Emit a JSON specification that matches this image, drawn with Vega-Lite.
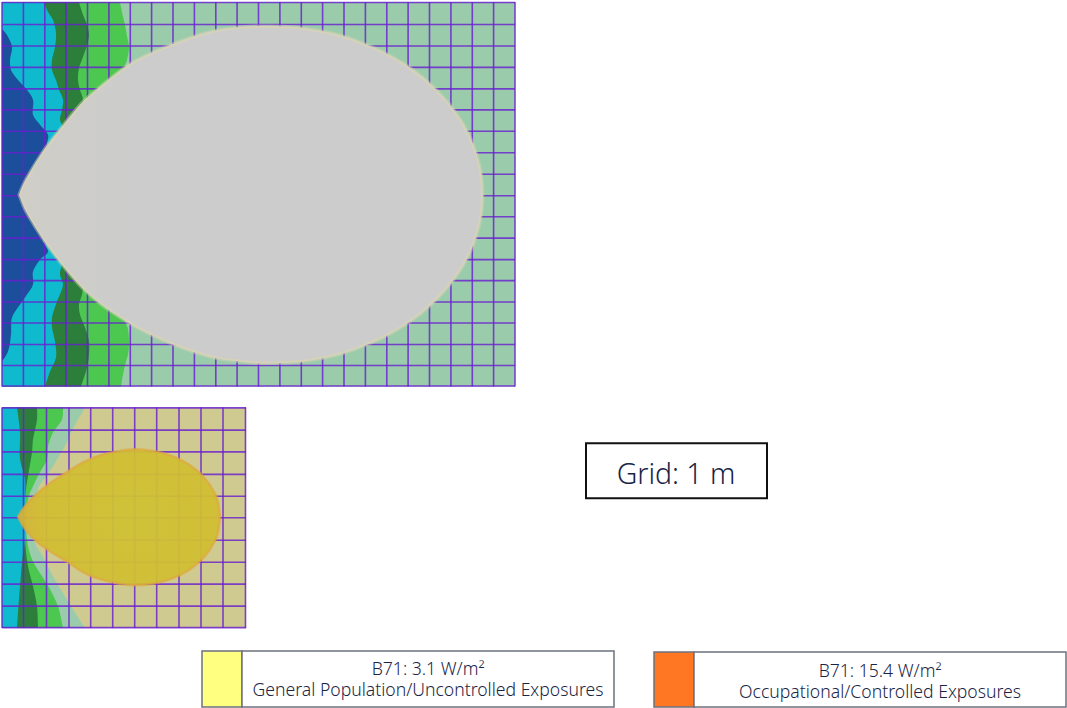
{"$schema":"https://vega.github.io/schema/vega-lite/v6.json","width":1067,"height":708,"padding":0,"autosize":{"type":"fit","contains":"padding"},"background":"white","config":{"view":{"stroke":null}},
"resolve":{"scale":{"color":"independent"}},
"datasets":{
"panels":[{"part":"top field","x":2,"x2":515,"y":2,"y2":387},{"part":"bottom field","x":2,"x2":246,"y":408,"y2":629}],
"bands":[
{"band":"top green","y":2,"x0":2,"x1":120},{"band":"top green","y":12,"x0":2,"x1":122},{"band":"top green","y":25,"x0":2,"x1":125},{"band":"top green","y":36,"x0":2,"x1":127},{"band":"top green","y":47,"x0":2,"x1":129},{"band":"top green","y":60,"x0":2,"x1":127},{"band":"top green","y":70,"x0":2,"x1":124},{"band":"top green","y":195,"x0":2,"x1":124},{"band":"top green","y":320,"x0":2,"x1":125},{"band":"top green","y":330,"x0":2,"x1":128},{"band":"top green","y":345,"x0":2,"x1":129},{"band":"top green","y":355,"x0":2,"x1":128},{"band":"top green","y":362,"x0":2,"x1":126},{"band":"top green","y":375,"x0":2,"x1":123},{"band":"top green","y":387,"x0":2,"x1":121},
{"band":"top dark","y":2,"x0":2,"x1":79},{"band":"top dark","y":12,"x0":2,"x1":82},{"band":"top dark","y":25,"x0":2,"x1":87},{"band":"top dark","y":35,"x0":2,"x1":89},{"band":"top dark","y":45,"x0":2,"x1":87},{"band":"top dark","y":57,"x0":2,"x1":83},{"band":"top dark","y":68,"x0":2,"x1":79},{"band":"top dark","y":80,"x0":2,"x1":78},{"band":"top dark","y":90,"x0":2,"x1":80},{"band":"top dark","y":100,"x0":2,"x1":83},{"band":"top dark","y":195,"x0":2,"x1":83},{"band":"top dark","y":287,"x0":2,"x1":83},{"band":"top dark","y":295,"x0":2,"x1":82},{"band":"top dark","y":305,"x0":2,"x1":79},{"band":"top dark","y":315,"x0":2,"x1":80},{"band":"top dark","y":328,"x0":2,"x1":85},{"band":"top dark","y":342,"x0":2,"x1":89},{"band":"top dark","y":355,"x0":2,"x1":89},{"band":"top dark","y":368,"x0":2,"x1":87},{"band":"top dark","y":387,"x0":2,"x1":81},
{"band":"top cyan","y":2,"x0":2,"x1":44},{"band":"top cyan","y":12,"x0":2,"x1":48},{"band":"top cyan","y":20,"x0":2,"x1":53},{"band":"top cyan","y":33,"x0":2,"x1":56},{"band":"top cyan","y":47,"x0":2,"x1":55},{"band":"top cyan","y":60,"x0":2,"x1":52},{"band":"top cyan","y":70,"x0":2,"x1":52},{"band":"top cyan","y":80,"x0":2,"x1":56},{"band":"top cyan","y":90,"x0":2,"x1":59},{"band":"top cyan","y":100,"x0":2,"x1":63},{"band":"top cyan","y":110,"x0":2,"x1":62},{"band":"top cyan","y":120,"x0":2,"x1":60},{"band":"top cyan","y":128,"x0":2,"x1":63},{"band":"top cyan","y":195,"x0":2,"x1":63},{"band":"top cyan","y":263,"x0":2,"x1":62},{"band":"top cyan","y":275,"x0":2,"x1":60},{"band":"top cyan","y":285,"x0":2,"x1":63},{"band":"top cyan","y":302,"x0":2,"x1":57},{"band":"top cyan","y":318,"x0":2,"x1":52},{"band":"top cyan","y":328,"x0":2,"x1":52},{"band":"top cyan","y":342,"x0":2,"x1":55},{"band":"top cyan","y":358,"x0":2,"x1":56},{"band":"top cyan","y":372,"x0":2,"x1":50},{"band":"top cyan","y":387,"x0":2,"x1":45},
{"band":"top blue","y":29,"x0":2,"x1":2},{"band":"top blue","y":35,"x0":2,"x1":7},{"band":"top blue","y":47,"x0":2,"x1":12},{"band":"top blue","y":60,"x0":2,"x1":10},{"band":"top blue","y":70,"x0":2,"x1":11},{"band":"top blue","y":80,"x0":2,"x1":18},{"band":"top blue","y":90,"x0":2,"x1":27},{"band":"top blue","y":100,"x0":2,"x1":33},{"band":"top blue","y":115,"x0":2,"x1":33},{"band":"top blue","y":125,"x0":2,"x1":40},{"band":"top blue","y":135,"x0":2,"x1":48},{"band":"top blue","y":145,"x0":2,"x1":47},{"band":"top blue","y":195,"x0":2,"x1":47},{"band":"top blue","y":240,"x0":2,"x1":43},{"band":"top blue","y":252,"x0":2,"x1":48},{"band":"top blue","y":260,"x0":2,"x1":40},{"band":"top blue","y":272,"x0":2,"x1":33},{"band":"top blue","y":285,"x0":2,"x1":33},{"band":"top blue","y":295,"x0":2,"x1":27},{"band":"top blue","y":305,"x0":2,"x1":20},{"band":"top blue","y":318,"x0":2,"x1":12},{"band":"top blue","y":335,"x0":2,"x1":11},{"band":"top blue","y":352,"x0":2,"x1":8},{"band":"top blue","y":362,"x0":2,"x1":2},
{"band":"bottom pale","y":408,"x0":2,"x1":85},{"band":"bottom pale","y":420,"x0":2,"x1":78},{"band":"bottom pale","y":433,"x0":2,"x1":71},{"band":"bottom pale","y":443,"x0":2,"x1":67},{"band":"bottom pale","y":455,"x0":2,"x1":60},{"band":"bottom pale","y":467,"x0":2,"x1":53},{"band":"bottom pale","y":480,"x0":2,"x1":44},{"band":"bottom pale","y":490,"x0":2,"x1":38},{"band":"bottom pale","y":543,"x0":2,"x1":35},{"band":"bottom pale","y":557,"x0":2,"x1":43},{"band":"bottom pale","y":577,"x0":2,"x1":53},{"band":"bottom pale","y":597,"x0":2,"x1":65},{"band":"bottom pale","y":613,"x0":2,"x1":75},{"band":"bottom pale","y":629,"x0":2,"x1":85},
{"band":"bottom green","y":408,"x0":2,"x1":63},{"band":"bottom green","y":420,"x0":2,"x1":62},{"band":"bottom green","y":433,"x0":2,"x1":53},{"band":"bottom green","y":447,"x0":2,"x1":48},{"band":"bottom green","y":460,"x0":2,"x1":47},{"band":"bottom green","y":473,"x0":2,"x1":40},{"band":"bottom green","y":487,"x0":2,"x1":33},{"band":"bottom green","y":500,"x0":2,"x1":28},{"band":"bottom green","y":540,"x0":2,"x1":27},{"band":"bottom green","y":560,"x0":2,"x1":32},{"band":"bottom green","y":577,"x0":2,"x1":42},{"band":"bottom green","y":590,"x0":2,"x1":50},{"band":"bottom green","y":607,"x0":2,"x1":58},{"band":"bottom green","y":629,"x0":2,"x1":63},
{"band":"bottom dark","y":408,"x0":2,"x1":37},{"band":"bottom dark","y":420,"x0":2,"x1":37},{"band":"bottom dark","y":440,"x0":2,"x1":33},{"band":"bottom dark","y":453,"x0":2,"x1":32},{"band":"bottom dark","y":477,"x0":2,"x1":28},{"band":"bottom dark","y":500,"x0":2,"x1":25},{"band":"bottom dark","y":540,"x0":2,"x1":25},{"band":"bottom dark","y":567,"x0":2,"x1":28},{"band":"bottom dark","y":587,"x0":2,"x1":33},{"band":"bottom dark","y":607,"x0":2,"x1":37},{"band":"bottom dark","y":629,"x0":2,"x1":38},
{"band":"bottom cyan","y":408,"x0":2,"x1":17},{"band":"bottom cyan","y":433,"x0":2,"x1":20},{"band":"bottom cyan","y":460,"x0":2,"x1":20},{"band":"bottom cyan","y":480,"x0":2,"x1":25},{"band":"bottom cyan","y":500,"x0":2,"x1":25},{"band":"bottom cyan","y":540,"x0":2,"x1":25},{"band":"bottom cyan","y":563,"x0":2,"x1":22},{"band":"bottom cyan","y":587,"x0":2,"x1":20},{"band":"bottom cyan","y":613,"x0":2,"x1":18},{"band":"bottom cyan","y":629,"x0":2,"x1":17}
],
"grid":[
{"x":2,"x2":2,"y":2,"y2":387},{"x":23.4,"x2":23.4,"y":2,"y2":387},{"x":44.8,"x2":44.8,"y":2,"y2":387},{"x":66.1,"x2":66.1,"y":2,"y2":387},{"x":87.5,"x2":87.5,"y":2,"y2":387},{"x":108.9,"x2":108.9,"y":2,"y2":387},{"x":130.3,"x2":130.3,"y":2,"y2":387},{"x":151.6,"x2":151.6,"y":2,"y2":387},{"x":173,"x2":173,"y":2,"y2":387},{"x":194.4,"x2":194.4,"y":2,"y2":387},{"x":215.8,"x2":215.8,"y":2,"y2":387},{"x":237.1,"x2":237.1,"y":2,"y2":387},{"x":258.5,"x2":258.5,"y":2,"y2":387},{"x":279.9,"x2":279.9,"y":2,"y2":387},{"x":301.3,"x2":301.3,"y":2,"y2":387},{"x":322.6,"x2":322.6,"y":2,"y2":387},{"x":344,"x2":344,"y":2,"y2":387},{"x":365.4,"x2":365.4,"y":2,"y2":387},{"x":386.8,"x2":386.8,"y":2,"y2":387},{"x":408.1,"x2":408.1,"y":2,"y2":387},{"x":429.5,"x2":429.5,"y":2,"y2":387},{"x":450.9,"x2":450.9,"y":2,"y2":387},{"x":472.3,"x2":472.3,"y":2,"y2":387},{"x":493.6,"x2":493.6,"y":2,"y2":387},{"x":515,"x2":515,"y":2,"y2":387},
{"x":2,"x2":515,"y":2.5,"y2":2.5},{"x":2,"x2":515,"y":24.5,"y2":24.5},{"x":2,"x2":515,"y":46,"y2":46},{"x":2,"x2":515,"y":67.5,"y2":67.5},{"x":2,"x2":515,"y":89,"y2":89},{"x":2,"x2":515,"y":110,"y2":110},{"x":2,"x2":515,"y":131.5,"y2":131.5},{"x":2,"x2":515,"y":153,"y2":153},{"x":2,"x2":515,"y":174.5,"y2":174.5},{"x":2,"x2":515,"y":196,"y2":196},{"x":2,"x2":515,"y":217,"y2":217},{"x":2,"x2":515,"y":238.5,"y2":238.5},{"x":2,"x2":515,"y":260,"y2":260},{"x":2,"x2":515,"y":281,"y2":281},{"x":2,"x2":515,"y":302.5,"y2":302.5},{"x":2,"x2":515,"y":323.5,"y2":323.5},{"x":2,"x2":515,"y":345,"y2":345},{"x":2,"x2":515,"y":366,"y2":366},{"x":2,"x2":515,"y":386.5,"y2":386.5},
{"x":2,"x2":2,"y":408,"y2":629},{"x":23.5,"x2":23.5,"y":408,"y2":629},{"x":46.5,"x2":46.5,"y":408,"y2":629},{"x":69,"x2":69,"y":408,"y2":629},{"x":90.7,"x2":90.7,"y":408,"y2":629},{"x":112.7,"x2":112.7,"y":408,"y2":629},{"x":134.7,"x2":134.7,"y":408,"y2":629},{"x":156.7,"x2":156.7,"y":408,"y2":629},{"x":179,"x2":179,"y":408,"y2":629},{"x":201,"x2":201,"y":408,"y2":629},{"x":223,"x2":223,"y":408,"y2":629},{"x":245.5,"x2":245.5,"y":408,"y2":629},
{"x":2,"x2":246,"y":408.5,"y2":408.5},{"x":2,"x2":246,"y":430.7,"y2":430.7},{"x":2,"x2":246,"y":452.5,"y2":452.5},{"x":2,"x2":246,"y":475,"y2":475},{"x":2,"x2":246,"y":497,"y2":497},{"x":2,"x2":246,"y":518.5,"y2":518.5},{"x":2,"x2":246,"y":541,"y2":541},{"x":2,"x2":246,"y":563,"y2":563},{"x":2,"x2":246,"y":585,"y2":585},{"x":2,"x2":246,"y":607,"y2":607},{"x":2,"x2":246,"y":628.5,"y2":628.5}
],
"topDrop":[{"x":20,"upper":195,"lower":195},{"x":21.5,"upper":191,"lower":199},{"x":25,"upper":183,"lower":208},{"x":30,"upper":174,"lower":217},{"x":43,"upper":153,"lower":238},{"x":63,"upper":127,"lower":265},{"x":83,"upper":103,"lower":288},{"x":100,"upper":88,"lower":303},{"x":130,"upper":65,"lower":323},{"x":173,"upper":45,"lower":344},{"x":195,"upper":37,"lower":352},{"x":217,"upper":31,"lower":358},{"x":240,"upper":28,"lower":361},{"x":260,"upper":27,"lower":363},{"x":270,"upper":27,"lower":363},{"x":280,"upper":27.3,"lower":362.7},{"x":300,"upper":28.5,"lower":361.5},{"x":322,"upper":32,"lower":358},{"x":343,"upper":37,"lower":353},{"x":365,"upper":45,"lower":345},{"x":387,"upper":55,"lower":335},{"x":408,"upper":67.5,"lower":322.5},{"x":430,"upper":85,"lower":305},{"x":452,"upper":109,"lower":281},{"x":465,"upper":129,"lower":261},{"x":472,"upper":144,"lower":246},{"x":477,"upper":159,"lower":231},{"x":480,"upper":172,"lower":218},{"x":481.5,"upper":184,"lower":206},{"x":482,"upper":195,"lower":195}],
"topTint":[{"x":21.5,"upper":191,"lower":199},{"x":25,"upper":183,"lower":208},{"x":30,"upper":174,"lower":217},{"x":43,"upper":153,"lower":238},{"x":63,"upper":127,"lower":265},{"x":83,"upper":103,"lower":288},{"x":100,"upper":88,"lower":303},{"x":130,"upper":65,"lower":323}],
"bottomDrop":[{"x":18,"upper":517.5,"lower":517.5},{"x":22,"upper":511,"lower":525},{"x":33,"upper":498,"lower":539},{"x":50,"upper":484,"lower":552},{"x":68,"upper":472,"lower":563},{"x":83,"upper":463,"lower":573},{"x":100,"upper":456,"lower":580},{"x":117,"upper":452,"lower":584},{"x":135,"upper":450,"lower":586},{"x":153,"upper":451.5,"lower":584.5},{"x":173,"upper":457,"lower":579},{"x":190,"upper":466,"lower":570},{"x":203,"upper":477,"lower":559},{"x":213,"upper":491,"lower":545},{"x":218,"upper":503,"lower":533},{"x":220,"upper":518,"lower":518}],
"boxes":[{"part":"limit 3.1","x":202,"x2":242,"y":652,"y2":708},{"part":"caption 3.1","x":242,"x2":614,"y":652,"y2":708},{"part":"limit 15.4","x":654,"x2":694,"y":653,"y2":708},{"part":"caption 15.4","x":694,"x2":1066,"y":653,"y2":708}],
"gridBox":[{"x":586,"x2":767,"y":444,"y2":499}],
"labels":[{"text":"B71: 3.1 W/m²","x":428,"y":671},{"text":"General Population/Uncontrolled Exposures","x":428,"y":692},{"text":"B71: 15.4 W/m²","x":880,"y":673},{"text":"Occupational/Controlled Exposures","x":880,"y":694}],
"gridLabel":[{"text":"Grid: 1 m","x":676,"y":476}]
},
"encoding":{"x":{"type":"quantitative","scale":{"domain":[0,1067],"nice":false,"zero":false},"axis":null},"y":{"type":"quantitative","scale":{"domain":[708,0],"nice":false,"zero":false},"axis":null}},
"layer":[
{"data":{"name":"panels"},"mark":{"type":"rect"},"encoding":{"x":{"field":"x"},"x2":{"field":"x2"},"y":{"field":"y"},"y2":{"field":"y2"},"color":{"field":"part","type":"nominal","legend":null,"scale":{"domain":["top field","bottom field"],"range":["#9ACCAC","#CFCB90"]}}}},
{"data":{"name":"bands"},"mark":{"type":"area","orient":"horizontal","interpolate":"catmull-rom"},"encoding":{"y":{"field":"y"},"x":{"field":"x0","stack":null},"x2":{"field":"x1"},"color":{"field":"band","type":"nominal","legend":null,"sort":null,"scale":{"domain":["top green","top dark","top cyan","top blue","bottom pale","bottom green","bottom dark","bottom cyan"],"range":["#4CC851","#2B7F3B","#0FBACF","#1B4F9C","#9ACCAC","#4CC851","#2B7F3B","#0FBACF"]}}}},
{"data":{"name":"grid"},"mark":{"type":"rule","color":"#6A1ED0","strokeWidth":1.6,"opacity":0.82},"encoding":{"x":{"field":"x"},"x2":{"field":"x2"},"y":{"field":"y"},"y2":{"field":"y2"}}},
{"data":{"name":"topDrop"},"mark":{"type":"area","interpolate":"monotone","fill":"none","stroke":"#D8D3B6","strokeWidth":5,"strokeOpacity":0.45},"encoding":{"x":{"field":"x"},"y":{"field":"upper","stack":null},"y2":{"field":"lower"}}},
{"data":{"name":"topDrop"},"mark":{"type":"area","interpolate":"monotone","fill":"#CCCCCC","stroke":"#D6D2BA","strokeWidth":2},"encoding":{"x":{"field":"x"},"y":{"field":"upper","stack":null},"y2":{"field":"lower"}}},
{"data":{"name":"topTint"},"mark":{"type":"area","interpolate":"monotone","opacity":0.22,"fill":{"gradient":"linear","x1":0,"y1":0,"x2":1,"y2":0,"stops":[{"offset":0,"color":"#D8D4B4"},{"offset":1,"color":"#CCCCCC"}]}},"encoding":{"x":{"field":"x"},"y":{"field":"upper","stack":null},"y2":{"field":"lower"}}},
{"data":{"name":"bottomDrop"},"mark":{"type":"area","interpolate":"monotone","opacity":0.94,"strokeOpacity":0.7,"stroke":"#DFA63C","strokeWidth":2.5,"fill":{"gradient":"radial","x1":0.58,"y1":0.5,"r1":0,"x2":0.58,"y2":0.5,"r2":0.62,"stops":[{"offset":0,"color":"#CFC234"},{"offset":0.75,"color":"#D2BE32"},{"offset":1,"color":"#DCAC38"}]}},"encoding":{"x":{"field":"x"},"y":{"field":"upper","stack":null},"y2":{"field":"lower"}}},
{"data":{"name":"boxes"},"mark":{"type":"rect","stroke":"#6B7280","strokeWidth":1.5},"encoding":{"x":{"field":"x"},"x2":{"field":"x2"},"y":{"field":"y"},"y2":{"field":"y2"},"color":{"field":"part","type":"nominal","legend":null,"scale":{"domain":["limit 3.1","caption 3.1","limit 15.4","caption 15.4"],"range":["#FFFF80","#FFFFFF","#FF7722","#FFFFFF"]}}}},
{"data":{"name":"gridBox"},"mark":{"type":"rect","fill":"#FFFFFF","stroke":"#111111","strokeWidth":2},"encoding":{"x":{"field":"x"},"x2":{"field":"x2"},"y":{"field":"y"},"y2":{"field":"y2"}}},
{"data":{"name":"labels"},"mark":{"type":"text","font":"Noto Sans","fontSize":17.6,"fontWeight":300,"color":"#1A2545","align":"center","baseline":"middle"},"encoding":{"x":{"field":"x"},"y":{"field":"y"},"text":{"field":"text"}}},
{"data":{"name":"gridLabel"},"mark":{"type":"text","font":"Noto Sans","fontSize":28.4,"fontWeight":300,"color":"#1A2545","align":"center","baseline":"middle"},"encoding":{"x":{"field":"x"},"y":{"field":"y"},"text":{"field":"text"}}}
]}
